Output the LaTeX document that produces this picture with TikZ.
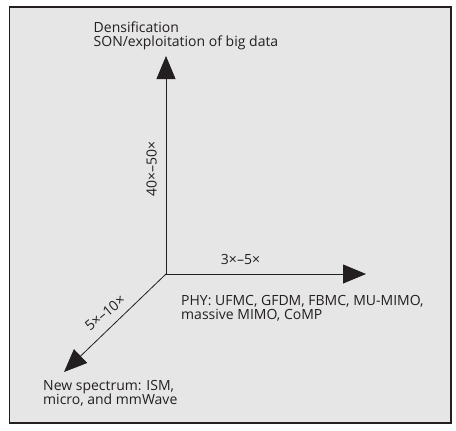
\documentclass[tikz,border=0pt]{standalone}
\usepackage{fontspec}
\setmainfont{Open Sans}
\usetikzlibrary{arrows.meta}
\definecolor{bgray}{HTML}{E6E6E6}
\definecolor{ink}{HTML}{231F20}
\tikzset{
  axis/.style={draw=ink, line width=0.8pt, -{Triangle[length=23pt,width=19pt]}},
  lbl/.style={font=\fontsize{14}{14.5}\selectfont, text=ink, inner sep=0pt},
  ln/.style={lbl, anchor=base west},
}
\begin{document}
\begin{tikzpicture}[x=1pt,y=-1pt]
\useasboundingbox (0,0) rectangle (456,431);
\draw[fill=bgray, draw=ink, line width=1.3pt] (9.5,7) rectangle (451,423);
\coordinate (o) at (166,274);
\coordinate (up) at (166,56);
\coordinate (rt) at (366,274);
\coordinate (dl) at (64,372);
\draw[axis] (o) -- (up);
\draw[axis] (o) -- (rt);
\draw[axis] (o) -- (dl);
\node[ln] (den1) at (93.5,32) {Densification};
\node[ln] (den2) at (93.5,46) {SON/exploitation of big data};
\node[lbl, rotate=90, anchor=base] (ylab) at (156.5,169) {40×–50×};
\node[lbl, anchor=base] (xlab) at (240.5,264) {3×–5×};
\node[ln] (phy1) at (181,305) {PHY: UFMC, GFDM, FBMC, MU-MIMO,};
\node[ln] (phy2) at (181,319) {massive MIMO, CoMP};
\node[lbl, rotate=40] (zlab) at (105,313) {5×–10×};
\node[ln] (spec1) at (43,390) {New spectrum: ISM,};
\node[ln] (spec2) at (43,404) {micro, and mmWave};
\end{tikzpicture}
\end{document}
